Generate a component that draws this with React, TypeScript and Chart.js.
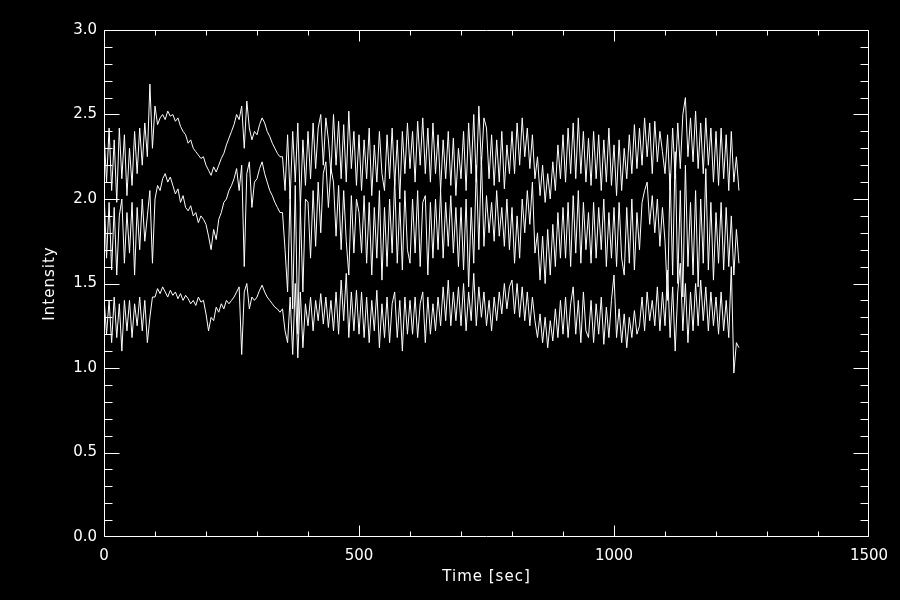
import React, { useEffect, useRef } from "react";
import { Chart, registerables } from "chart.js";

Chart.register(...registerables);

// Sampling interval of the time series (seconds)
const TIME_STEP = 5;

// Upper curve (intensity), one value every 5 s from t = 0
const topSeries = [
  2.40, 2.10, 2.42, 2.05, 2.35, 1.98, 2.42, 2.12, 2.38, 2.02,
  2.30, 2.08, 2.40, 2.15, 2.42, 2.20, 2.45, 2.25, 2.68, 2.30,
  2.55, 2.44, 2.48, 2.50, 2.47, 2.52, 2.49, 2.50, 2.46, 2.48,
  2.43, 2.40, 2.38, 2.33, 2.35, 2.30, 2.28, 2.26, 2.24, 2.25,
  2.20, 2.17, 2.14, 2.19, 2.16, 2.20, 2.24, 2.27, 2.32, 2.36,
  2.40, 2.44, 2.50, 2.47, 2.55, 2.30, 2.58, 2.42, 2.35, 2.40,
  2.38, 2.44, 2.48, 2.45, 2.40, 2.37, 2.33, 2.30, 2.27, 2.25,
  2.25, 2.05, 2.38, 2.00, 2.40, 2.10, 2.45, 1.95, 2.35, 2.08,
  2.40, 2.12, 2.45, 2.18, 2.42, 2.50, 2.20, 2.48, 2.35, 2.15,
  2.50, 2.20, 2.46, 2.12, 2.44, 2.10, 2.52, 2.18, 2.40, 2.08,
  2.38, 2.05, 2.35, 2.12, 2.42, 2.02, 2.32, 2.10, 2.40, 2.15,
  2.05, 2.38, 2.12, 2.42, 2.08, 2.35, 2.00, 2.40, 2.15, 2.45,
  2.18, 2.40, 2.10, 2.46, 2.20, 2.48, 2.15, 2.42, 2.10, 2.45,
  2.15, 2.38, 2.05, 2.35, 2.12, 2.40, 2.08, 2.36, 2.02, 2.30,
  2.12, 2.40, 2.05, 2.45, 2.15, 2.50, 2.10, 2.55, 2.20, 2.48,
  2.42, 2.12, 2.38, 2.08, 2.35, 2.10, 2.40, 2.06, 2.32, 2.15,
  2.40, 2.15, 2.45, 2.20, 2.48, 2.25, 2.42, 2.18, 2.38, 2.12,
  2.25, 2.02, 2.20, 1.98, 2.15, 2.00, 2.22, 2.05, 2.32, 2.12,
  2.38, 2.10, 2.42, 2.15, 2.45, 2.12, 2.48, 2.15, 2.40, 2.10,
  2.36, 2.08, 2.40, 2.12, 2.38, 2.05, 2.35, 2.10, 2.42, 2.08,
  2.32, 2.02, 2.35, 2.05, 2.30, 2.12, 2.38, 2.15, 2.44, 2.18,
  2.42, 2.20, 2.48, 2.25, 2.45, 2.15, 2.46, 2.22, 2.40, 2.28,
  2.15, 2.38, 2.05, 2.42, 2.12, 2.45, 2.18, 2.50, 2.60, 2.25,
  2.48, 2.22, 2.52, 2.18, 2.45, 2.15, 2.48, 2.20, 2.42, 2.10,
  2.40, 2.08, 2.42, 2.12, 2.38, 2.05, 2.40, 2.10, 2.25, 2.05,
];

// Middle curve
const midSeries = [
  2.05, 1.65, 1.98, 1.58, 1.95, 1.55, 1.90, 2.00, 1.62, 1.92,
  1.68, 1.98, 1.55, 1.95, 1.70, 2.00, 1.75, 1.90, 2.05, 1.62,
  2.00, 2.08, 2.05, 2.12, 2.15, 2.10, 2.13, 2.08, 2.03, 2.06,
  1.98, 2.02, 1.95, 1.93, 1.96, 1.90, 1.92, 1.86, 1.90, 1.88,
  1.85, 1.78, 1.70, 1.82, 1.76, 1.88, 1.92, 1.98, 2.00, 2.05,
  2.08, 2.12, 2.18, 2.05, 2.20, 1.60, 2.15, 2.22, 1.95, 2.10,
  2.12, 2.18, 2.22, 2.15, 2.10, 2.05, 2.02, 1.98, 1.95, 1.92,
  1.92, 1.70, 1.45, 2.05, 1.35, 2.08, 1.20, 1.95, 1.45, 2.00,
  1.98, 1.65, 2.05, 1.72, 2.10, 1.80, 2.15, 2.22, 1.95, 2.18,
  2.10, 1.78, 2.08, 1.70, 2.05, 1.75, 1.55, 2.02, 1.68, 2.00,
  1.92, 1.68, 2.02, 1.62, 1.98, 1.55, 1.95, 1.65, 2.05, 1.52,
  1.95, 1.60, 2.00, 1.68, 2.12, 1.62, 1.98, 1.58, 2.05, 1.70,
  1.62, 2.00, 1.68, 2.05, 1.60, 1.98, 2.02, 1.55, 1.98, 1.65,
  2.00, 1.70, 2.05, 1.65, 1.98, 1.72, 2.02, 1.68, 1.95, 1.60,
  1.95, 1.58, 2.00, 1.48, 1.95, 1.62, 2.20, 1.70, 2.25, 1.72,
  2.02, 1.80, 1.98, 1.75, 2.05, 1.78, 1.95, 1.72, 2.00, 1.70,
  1.95, 1.62, 1.90, 1.65, 2.00, 1.80, 2.05, 1.85, 2.10, 1.68,
  1.80, 1.52, 1.78, 1.50, 1.82, 1.55, 1.85, 1.60, 1.92, 1.65,
  1.95, 1.65, 1.98, 1.60, 2.02, 1.68, 2.05, 1.62, 1.98, 1.70,
  1.92, 1.62, 1.98, 1.65, 1.95, 1.70, 2.00, 1.60, 1.92, 1.65,
  1.95, 1.60, 1.98, 1.65, 1.55, 1.95, 1.62, 2.00, 1.58, 1.92,
  1.70, 1.98, 2.05, 2.10, 1.85, 2.02, 1.80, 2.00, 1.72, 1.95,
  1.75, 1.40, 2.15, 1.55, 2.28, 1.50, 2.05, 1.42, 2.20, 1.60,
  1.98, 1.55, 2.05, 1.48, 2.00, 1.62, 2.18, 1.58, 1.98, 1.52,
  1.92, 1.62, 1.98, 1.58, 1.95, 1.60, 1.90, 1.55, 1.82, 1.62,
];

// Lower curve
const lowSeries = [
  1.42, 1.20, 1.40, 1.15, 1.42, 1.18, 1.38, 1.10, 1.40, 1.22,
  1.40, 1.18, 1.38, 1.25, 1.42, 1.22, 1.40, 1.15, 1.30, 1.42,
  1.42, 1.47, 1.44, 1.48, 1.45, 1.42, 1.46, 1.43, 1.45, 1.41,
  1.44, 1.40, 1.43, 1.41, 1.38, 1.40, 1.37, 1.42, 1.39, 1.40,
  1.32, 1.22, 1.30, 1.28, 1.36, 1.33, 1.38, 1.35, 1.40, 1.38,
  1.40, 1.42, 1.45, 1.48, 1.08, 1.45, 1.50, 1.35, 1.42, 1.40,
  1.42, 1.46, 1.49, 1.45, 1.42, 1.40, 1.38, 1.36, 1.35, 1.33,
  1.35, 1.22, 1.15, 1.42, 1.08, 1.50, 1.06, 1.45, 1.12, 1.38,
  1.25, 1.42, 1.22, 1.40, 1.28, 1.44, 1.26, 1.42, 1.24, 1.40,
  1.22, 1.45, 1.20, 1.52, 1.28, 1.56, 1.18, 1.45, 1.22, 1.46,
  1.20, 1.45, 1.18, 1.42, 1.15, 1.40, 1.22, 1.46, 1.12, 1.38,
  1.18, 1.42, 1.15, 1.38, 1.45, 1.18, 1.40, 1.10, 1.42, 1.20,
  1.40, 1.20, 1.42, 1.18, 1.38, 1.45, 1.15, 1.42, 1.20, 1.38,
  1.22, 1.42, 1.25, 1.48, 1.28, 1.52, 1.25, 1.45, 1.28, 1.48,
  1.25, 1.50, 1.22, 1.45, 1.28, 1.56, 1.25, 1.48, 1.30, 1.45,
  1.25, 1.40, 1.22, 1.42, 1.28, 1.45, 1.32, 1.50, 1.35, 1.48,
  1.52, 1.32, 1.50, 1.30, 1.48, 1.28, 1.45, 1.25, 1.42, 1.28,
  1.18, 1.32, 1.15, 1.30, 1.12, 1.28, 1.16, 1.35, 1.18, 1.40,
  1.20, 1.42, 1.18, 1.38, 1.48, 1.20, 1.40, 1.15, 1.45, 1.22,
  1.18, 1.40, 1.15, 1.38, 1.20, 1.42, 1.14, 1.36, 1.18, 1.40,
  1.55, 1.18, 1.35, 1.15, 1.32, 1.12, 1.30, 1.18, 1.34, 1.20,
  1.25, 1.42, 1.22, 1.45, 1.28, 1.40, 1.25, 1.48, 1.22, 1.45,
  1.25, 1.58, 1.18, 1.48, 1.10, 1.45, 1.62, 1.22, 1.50, 1.15,
  1.45, 1.22, 1.50, 1.25, 1.52, 1.28, 1.48, 1.22, 1.45, 1.25,
  1.42, 1.20, 1.45, 1.22, 1.40, 1.18, 1.60, 0.97, 1.15, 1.12,
];

const times = topSeries.map((_, i) => i * TIME_STEP);

const xMajorTicks = [0, 500, 1000, 1500];
const xTickLabels = ["0", "500", "1000", "1500"];
const yMajorTicks = [0.0, 0.5, 1.0, 1.5, 2.0, 2.5, 3.0];
const yTickLabels = ["0.0", "0.5", "1.0", "1.5", "2.0", "2.5", "3.0"];
const xMinorStep = 100;
const yMinorStep = 0.1;

const X_TITLE = "Time [sec]";
const Y_TITLE = "Intensity";

const FONT = '15px "DejaVu Sans", sans-serif';

const idlFramePlugin = {
  id: "idlFrame",
  beforeDraw(chart: any) {
    const ctx = chart.ctx;
    ctx.save();
    ctx.fillStyle = "#000";
    ctx.fillRect(0, 0, chart.width, chart.height);
    ctx.restore();
  },
  afterDraw(chart: any) {
    const ctx = chart.ctx;
    const { left, right, top, bottom } = chart.chartArea;
    const xs = chart.scales.x;
    const ys = chart.scales.y;
    const L = Math.round(left) + 0.5;
    const R = Math.round(right) - 0.5;
    const T = Math.round(top) + 0.5;
    const B = Math.round(bottom) - 0.5;
    ctx.save();
    ctx.strokeStyle = "#fff";
    ctx.lineWidth = 1;
    ctx.beginPath();
    ctx.rect(L, T, R - L, B - T);
    ctx.stroke();

    ctx.beginPath();
    const xMin = xMajorTicks[0];
    const xMax = xMajorTicks[xMajorTicks.length - 1];
    for (let v = xMin; v <= xMax + 1e-6; v += xMinorStep) {
      const isMajor = xMajorTicks.some((m) => Math.abs(m - v) < 1e-6);
      const len = isMajor ? 11 : 5;
      const px = Math.round(xs.getPixelForValue(v)) + 0.5;
      const pxc = Math.min(Math.max(px, L), R);
      ctx.moveTo(pxc, B);
      ctx.lineTo(pxc, B - len);
      ctx.moveTo(pxc, T);
      ctx.lineTo(pxc, T + len);
    }
    const yMin = yMajorTicks[0];
    const yMax = yMajorTicks[yMajorTicks.length - 1];
    const nY = Math.round((yMax - yMin) / yMinorStep);
    for (let i = 0; i <= nY; i++) {
      const v = yMin + i * yMinorStep;
      const isMajor = yMajorTicks.some((m) => Math.abs(m - v) < 1e-6);
      const len = isMajor ? 15 : 8;
      const py = Math.round(ys.getPixelForValue(v)) + 0.5;
      const pyc = Math.min(Math.max(py, T), B);
      ctx.moveTo(L, pyc);
      ctx.lineTo(L + len, pyc);
      ctx.moveTo(R, pyc);
      ctx.lineTo(R - len, pyc);
    }
    ctx.stroke();

    ctx.fillStyle = "#fff";
    ctx.font = FONT;
    ctx.textAlign = "right";
    ctx.textBaseline = "middle";
    yMajorTicks.forEach((v, i) => {
      ctx.fillText(yTickLabels[i], left - 7, ys.getPixelForValue(v));
    });
    ctx.textAlign = "center";
    ctx.textBaseline = "top";
    xMajorTicks.forEach((v, i) => {
      ctx.fillText(xTickLabels[i], xs.getPixelForValue(v), bottom + 12);
    });
    ctx.textBaseline = "middle";
    try { (ctx as any).letterSpacing = "1px"; } catch (e) {}
    ctx.fillText(X_TITLE, (left + right) / 2, bottom + 40);
    ctx.save();
    ctx.translate(50, (top + bottom) / 2);
    ctx.rotate(-Math.PI / 2);
    ctx.fillText(Y_TITLE, 0, 0);
    ctx.restore();
    ctx.restore();
  },
};

export default function App() {
  const canvasRef = useRef<HTMLCanvasElement | null>(null);

  useEffect(() => {
    document.body.style.margin = "0";
    document.body.style.background = "#000";
    const canvas = canvasRef.current;
    if (!canvas) return;
    const mk = (arr: number[]) => ({
      data: times.map((t, i) => ({ x: t, y: arr[i] })),
      borderColor: "#fff",
      borderWidth: 1,
      pointRadius: 0,
      tension: 0,
      fill: false,
    });
    const chart = new Chart(canvas, {
      type: "line",
      data: { datasets: [mk(topSeries), mk(midSeries), mk(lowSeries)] },
      options: {
        animation: false,
        responsive: false,
        maintainAspectRatio: false,
        devicePixelRatio: 1,
        layout: { padding: { left: 104, right: 31, top: 30, bottom: 63 } },
        plugins: {
          legend: { display: false },
          tooltip: { enabled: false },
        },
        scales: {
          x: { type: "linear", min: 0, max: 1500, display: false },
          y: { type: "linear", min: 0, max: 3, display: false },
        },
      },
      plugins: [idlFramePlugin],
    } as any);
    return () => chart.destroy();
  }, []);

  return (
    <div style={{ width: 900, height: 600, background: "#000" }}>
      <canvas ref={canvasRef} width={900} height={600} style={{ display: "block" }} />
    </div>
  );
}
